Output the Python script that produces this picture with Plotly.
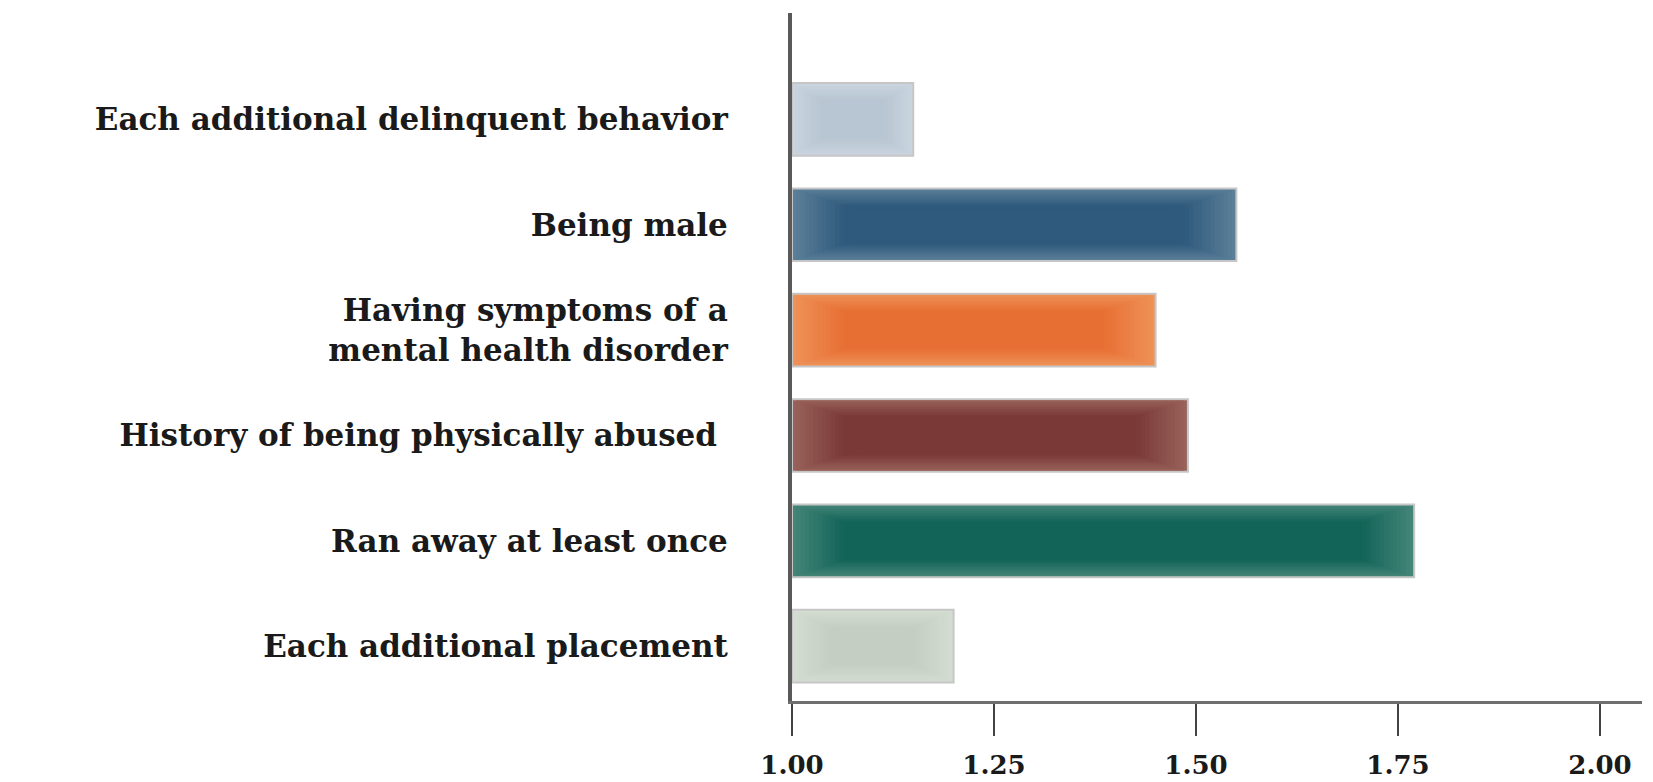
import plotly.graph_objects as go

categories = [
    "Each additional delinquent behavior",
    "Being male",
    "Having symptoms of a<br>mental health disorder",
    "History of being physically abused\u00a0",
    "Ran away at least once",
    "Each additional placement",
]
values = [1.15, 1.55, 1.45, 1.49, 1.77, 1.20]
edge_colors = ["#c9d4de", "#5b7f98", "#ee9258", "#98625a", "#448578", "#d4ddd2"]
core_colors = ["#b8c6d3", "#2f5a7d", "#e86f34", "#7a3937", "#136458", "#c4cec2"]
tick_values = [1.00, 1.25, 1.50, 1.75, 2.00]

BASE = 1.0
BAR_W = 0.69
N_LAYERS = 16
FONT = "DejaVu Serif"


def hex2rgb(h):
    h = h.lstrip("#")
    return tuple(int(h[i:i + 2], 16) for i in (0, 2, 4))


def mix(a, b, t):
    ra, rb = hex2rgb(a), hex2rgb(b)
    return "rgb(%d,%d,%d)" % tuple(round(ra[i] + (rb[i] - ra[i]) * t) for i in range(3))


fig = go.Figure()

for k in range(N_LAYERS):
    t = k / (N_LAYERS - 1)
    lengths, bases, colors = [], [], []
    for v, e, c in zip(values, edge_colors, core_colors):
        L = v - BASE
        d = t * min(0.08, 0.3 * L)
        bases.append(BASE + d)
        lengths.append(L - 2 * d)
        colors.append(mix(e, c, min(1.0, t * 1.3)))
    fig.add_trace(go.Bar(
        y=categories,
        x=lengths,
        base=bases,
        orientation="h",
        width=BAR_W * (1 - 0.6 * t),
        marker=dict(
            color=colors,
            line=dict(color="#c6c6c6" if k == 0 else "rgba(0,0,0,0)", width=2 if k == 0 else 0),
        ),
        showlegend=False,
        hoverinfo="skip",
    ))

# the page body has an 8px default margin, so the figure is 8px smaller
fig.update_layout(
    width=1645,
    height=774,
    margin=dict(l=784, r=11, t=5, b=81),
    paper_bgcolor="white",
    plot_bgcolor="white",
    barmode="overlay",
    font=dict(family=FONT, color="#1a1a1a"),
)

fig.update_xaxes(
    range=[1.0, 2.052],
    tickvals=tick_values,
    tickformat=".2f",
    showgrid=False,
    zeroline=False,
    showline=True,
    linecolor="#6e6e6e",
    linewidth=3,
    ticks="outside",
    ticklen=32,
    tickwidth=2,
    tickcolor="#444444",
    ticklabelstandoff=7,
    automargin=False,
    tickfont=dict(family=FONT, size=26, color="#1a1a1a", weight="bold"),
)

fig.update_yaxes(
    categoryorder="array",
    categoryarray=categories,
    range=[5.52, -1.01],
    showgrid=False,
    zeroline=False,
    showline=True,
    linecolor="#595959",
    linewidth=4,
    ticks="",
    ticklabelstandoff=54,
    automargin=False,
    tickfont=dict(family=FONT, size=31, color="#1a1a1a", weight="bold"),
)

fig.write_html("out.html")
